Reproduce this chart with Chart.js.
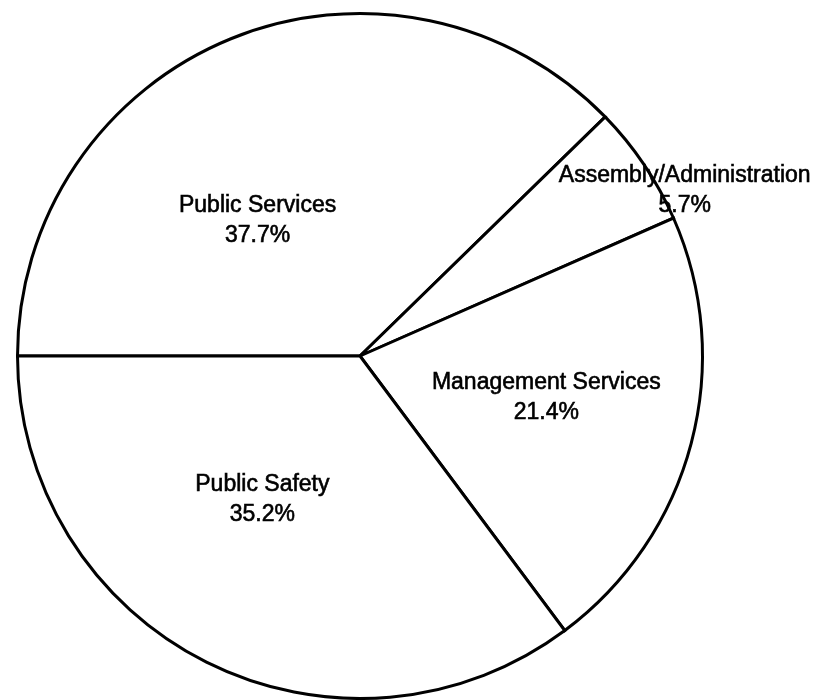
<!DOCTYPE html>
<html>
<head>
<meta charset="utf-8">
<script src="https://cdn.jsdelivr.net/npm/chart.js@4.4.0/dist/chart.umd.min.js"></script>
<style>
  html, body { margin: 0; padding: 0; background: #fff; }
  #wrap { width: 821px; height: 700px; }
</style>
</head>
<body>
<div id="wrap"><canvas id="myChart" width="821" height="700"></canvas></div>
<script>
// slices, clockwise starting at 9 o'clock
var categories = ['Public Services', 'Assembly/Administration', 'Management Services', 'Public Safety'];
var shares = [37.7, 5.7, 21.4, 35.2];
var shareLabels = ['37.7%', '5.7%', '21.4%', '35.2%'];

// where each text block sits, as a fraction of the radius from the centre
var labelSpots = [
    [-0.299, -0.395],
    [0.948, -0.483],
    [0.544, 0.122],
    [-0.285, 0.419]
];

var sliceLabels = {
    id: 'sliceLabels',
    afterDatasetsDraw: function(chart) {
        var c = chart.ctx;
        var arcs = chart.getDatasetMeta(0).data;
        c.save();
        c.fillStyle = '#000';
        c.strokeStyle = '#000';
        c.lineWidth = 0.6;
        c.font = '23px "Liberation Sans", Arial, sans-serif';
        c.textAlign = 'center';
        c.textBaseline = 'middle';
        for (let i = 0; i < arcs.length; i++) {
            let a = arcs[i];
            let x = a.x + labelSpots[i][0] * a.outerRadius;
            let y = a.y + labelSpots[i][1] * a.outerRadius;
            c.fillText(categories[i], x, y - 15);
            c.strokeText(categories[i], x, y - 15);
            c.fillText(shareLabels[i], x, y + 15);
            c.strokeText(shareLabels[i], x, y + 15);
        }
        c.restore();
    }
};

var ctx = document.getElementById('myChart');
var myChart = new Chart(ctx, {
    type: 'pie',
    data: {
        labels: categories,
        datasets: [{
            data: shares,
            backgroundColor: '#fff',
            borderColor: '#000',
            borderWidth: 3,
            borderJoinStyle: 'miter'
        }]
    },
    options: {
        responsive: false,
        animation: false,
        rotation: -90,
        layout: { padding: { top: 12, bottom: 0, left: 0, right: 101 } },
        plugins: {
            legend: { display: false },
            tooltip: { enabled: false }
        }
    },
    plugins: [sliceLabels]
});
</script>
</body>
</html>
